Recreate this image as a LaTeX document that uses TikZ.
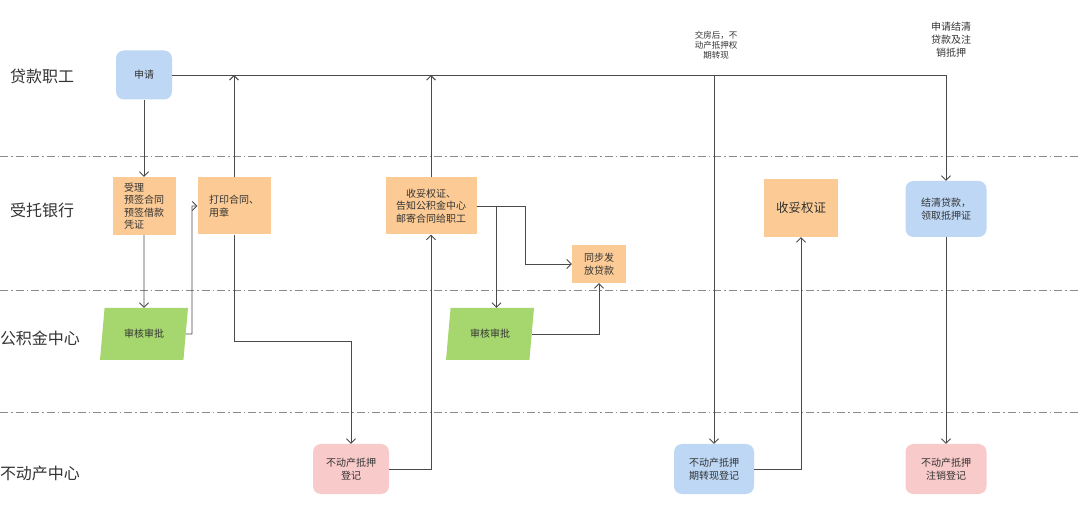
\documentclass[tikz,border=0pt]{standalone}
\usepackage{fontspec}
\setmainfont{Noto Sans CJK SC}
\usetikzlibrary{arrows.meta,shapes.geometric,calc}
\definecolor{bfill}{HTML}{BDD7F5}
\definecolor{ofill}{HTML}{FCCB95}
\definecolor{gfill}{HTML}{A6D66E}
\definecolor{pfill}{HTML}{F9CACA}
\definecolor{lcol}{HTML}{4A4A4A}
\definecolor{tcol}{HTML}{333333}
\definecolor{dcol}{HTML}{8A8A8A}
\begin{document}
\begin{tikzpicture}[x=1pt,y=-1pt,
  every node/.style={text=tcol},
  nbox/.style={inner sep=0pt, align=center, font=\fontsize{10}{12.5}\selectfont},
  obox/.style={nbox, fill=ofill},
  bbox/.style={nbox, fill=bfill, rounded corners=8pt},
  pbox/.style={nbox, fill=pfill, rounded corners=8pt},
  gpar/.style={nbox, fill=gfill, trapezium, trapezium left angle=76, trapezium right angle=104, trapezium stretches=true, minimum width=88, minimum height=52},
  lane/.style={font=\fontsize{16}{18}\selectfont, inner sep=0pt},
  note/.style={inner sep=0pt, align=center},
  conn/.style={draw=lcol, line width=0.9pt, -{Straight Barb[length=4.5pt,width=9pt]}},
  plain/.style={draw=lcol, line width=0.9pt},
  divider/.style={draw=dcol, line width=0.9pt, dash pattern=on 8pt off 3pt on 1.5pt off 3pt}
]
\useasboundingbox (0,0) rectangle (1080,521);
\fill[white] (0,0) rectangle (1080,521);

% swimlane dividers
\draw[divider] (0,156) -- (1080,156);
\draw[divider] (0,290) -- (1080,290);
\draw[divider] (0,412) -- (1080,412);

% lane labels
\node[lane] (l1) at (42,76) {贷款职工};
\node[lane] (l2) at (42,210) {受托银行};
\node[lane] (l3) at (40,338) {公积金中心};
\node[lane] (l4) at (40,473) {不动产中心};

% nodes
\node[bbox, minimum width=56, minimum height=49] (apply) at (144,75) {申请};
\node[obox, minimum width=63, minimum height=58, align=left] (accept) at (144,206) {受理\\预签合同\\预签借款\\凭证};
\node[obox, minimum width=73, minimum height=57, align=left] (print) at (234,206) {打印合同、\\用章};
\node[gpar] (audit1) at (144,334) {审核审批};
\node[obox, minimum width=91, minimum height=57] (recv1) at (431,206) {收妥权证、\\告知公积金中心\\邮寄合同给职工};
\node[obox, minimum width=54, minimum height=38] (sync) at (599,264) {同步发\\放贷款};
\node[gpar] (audit2) at (490,334) {审核审批};
\node[obox, minimum width=74, minimum height=58, font=\fontsize{12.5}{14}\selectfont] (recv2) at (801,208) {收妥权证};
\node[bbox, minimum width=81, minimum height=56] (settle) at (946,209) {结清贷款，\\领取抵押证};
\node[pbox, minimum width=76, minimum height=50] (reg1) at (351,469) {不动产抵押\\登记};
\node[bbox, minimum width=80, minimum height=50] (reg2) at (714,469) {不动产抵押\\期转现登记};
\node[pbox, minimum width=81, minimum height=50] (reg3) at (946,469) {不动产抵押\\注销登记};

% annotations
\node[note, font=\fontsize{8.5}{10}\selectfont] (note1) at (716,45) {交房后，不\\动产抵押权\\期转现};
\node[note, font=\fontsize{10}{13}\selectfont] (note2) at (951,40) {申请结清\\贷款及注\\销抵押};

% helper coordinates
\coordinate (j1) at (192,334);
\coordinate (j2) at (0,341);
\coordinate (j3) at (496.5,0);
\coordinate (j4) at (525,264);

% connectors
\draw[conn] (apply.east) -| (settle.north);
\draw[conn] (reg2.north |- apply.east) -- (reg2.north);
\draw[conn] (apply.south) -- (accept.north);
\draw[conn] (accept.south) -- (audit1.north);
\draw[conn] (audit1.east) -- (j1) |- (print.west);
\draw[conn] (print.north) -- (print.north |- apply.east);
\draw[conn] (print.south) -- (print.south |- j2) -| (reg1.north);
\draw[conn] (reg1.east) -| (recv1.south);
\draw[conn] (recv1.north) -- (recv1.north |- apply.east);
\draw[conn] (recv1.east) -| (j3 |- audit2.north);
\draw[conn] (recv1.east) -| (j4) -- (sync.west);
\draw[conn] (audit2.east) -| (sync.south);
\draw[conn] (reg2.east) -| (recv2.south);
\draw[conn] (settle.south) -- (reg3.north);
\end{tikzpicture}
\end{document}
